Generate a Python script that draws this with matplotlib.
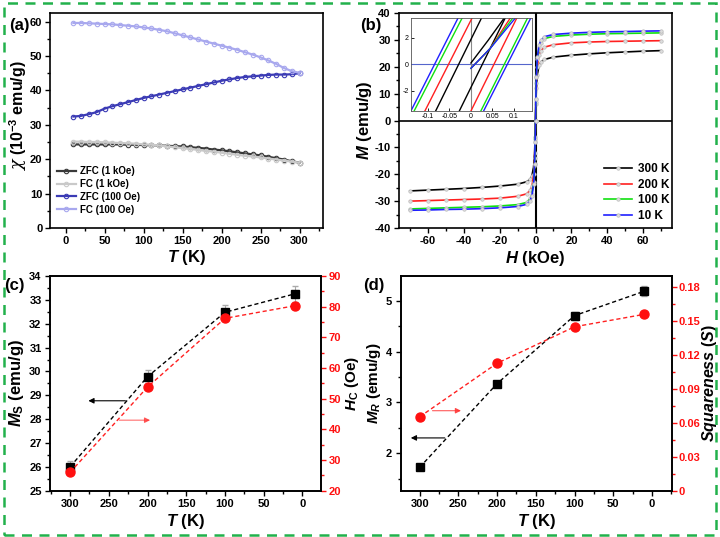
import matplotlib
matplotlib.use('Agg')
import matplotlib.pyplot as plt
from matplotlib.patches import Rectangle
from matplotlib.ticker import MultipleLocator

plt.rcParams['font.family'] = ['Liberation Sans', 'DejaVu Sans']
plt.rcParams['font.weight'] = 'bold'
plt.rcParams['axes.labelweight'] = 'bold'
plt.rcParams['axes.unicode_minus'] = False
plt.rcParams['mathtext.fontset'] = 'custom'
plt.rcParams['mathtext.rm'] = 'Liberation Sans:bold'
plt.rcParams['mathtext.it'] = 'Liberation Sans:italic:bold'
plt.rcParams['mathtext.bf'] = 'Liberation Sans:bold'

# ---------------- (a) susceptibility vs T ----------------
T_a = [10, 20, 30, 40, 50, 60, 70, 80, 90, 100, 110, 120, 130, 140, 150,
       160, 170, 180, 190, 200, 210, 220, 230, 240, 250, 260, 270, 280, 290, 300]
zfc_1k = [24.3, 24.3, 24.3, 24.3, 24.3, 24.3, 24.3, 24.2, 24.2, 24.1, 24.1, 24.0, 23.9, 23.8, 23.7,
          23.5, 23.3, 23.1, 22.8, 22.6, 22.3, 22.0, 21.7, 21.4, 21.1, 20.7, 20.3, 19.9, 19.4, 19.0]
fc_1k = [25.1, 25.1, 25.0, 25.0, 24.9, 24.8, 24.7, 24.6, 24.5, 24.3, 24.2, 24.0, 23.7, 23.5, 23.2,
         23.0, 22.7, 22.4, 22.2, 21.9, 21.6, 21.3, 21.0, 20.8, 20.5, 20.2, 19.9, 19.6, 19.3, 19.0]
zfc_100 = [32.4, 32.6, 33.1, 33.7, 34.7, 35.4, 36.0, 36.6, 37.2, 37.8, 38.3, 38.8, 39.3, 39.8, 40.3,
           40.8, 41.3, 41.8, 42.3, 42.8, 43.2, 43.6, 43.9, 44.1, 44.3, 44.5, 44.6, 44.6, 44.7, 45.0]
fc_100 = [59.6, 59.6, 59.5, 59.4, 59.3, 59.2, 59.0, 58.8, 58.6, 58.3, 58.0, 57.6, 57.2, 56.6, 56.0,
          55.4, 54.8, 54.2, 53.6, 53.0, 52.4, 51.8, 51.1, 50.4, 49.6, 48.7, 47.7, 46.5, 45.6, 45.1]
labels_a = ['ZFC (1 kOe)', 'FC (1 kOe)', 'ZFC (100 Oe)', 'FC (100 Oe)']
colors_a = ['#3a3a3a', '#c9c9c9', '#3b3bb5', '#a8a8ee']

# ---------------- (b) M-H loops ----------------
H_field = [-70, -60, -50, -40, -30, -20, -10, -5, -3, -2, -1, -0.5, -0.2, 0,
           0.2, 0.5, 1, 2, 3, 5, 10, 20, 30, 40, 50, 60, 70]
M_300K = [-26.2, -25.9, -25.6, -25.3, -24.9, -24.4, -23.7, -22.8, -21.9, -20.6, -17, -12, -6, 0,
          6, 12, 17, 20.5, 21.8, 22.7, 23.6, 24.3, 24.8, 25.2, 25.5, 25.8, 26.0]
M_200K = [-30.0, -29.8, -29.6, -29.4, -29.2, -28.9, -28.2, -27.3, -26.0, -24.5, -20, -14, -7, 0,
          7, 14, 20, 24.5, 26.0, 27.3, 28.2, 28.9, 29.2, 29.4, 29.5, 29.6, 29.7]
M_100K = [-32.9, -32.7, -32.5, -32.3, -32.1, -31.8, -31.3, -30.5, -29.0, -27.5, -23, -16, -8, 0,
          8, 16, 23, 27.5, 29.0, 30.5, 31.3, 31.8, 32.1, 32.3, 32.4, 32.5, 32.6]
M_10K = [-33.4, -33.3, -33.1, -33.0, -32.8, -32.5, -32.0, -31.2, -29.8, -28.0, -23.5, -16, -8, 0,
         8, 16, 23.5, 28.0, 29.8, 31.2, 32.0, 32.5, 32.8, 33.0, 33.1, 33.25, 33.35]
labels_b = ['300 K', '200 K', '100 K', '10 K']
colors_b = ['#000000', '#ff2020', '#10e010', '#2020ff']

# inset: straight branch segments near H = 0 (kOe), endpoints at M = -3.5 and 3.5
ins_M_ends = [-3.5, 3.5]
ins_desc_300 = [-0.082, 0.025]
ins_desc_200 = [-0.107, 0.003]
ins_desc_100 = [-0.132, -0.020]
ins_desc_10 = [-0.1395, -0.0295]
ins_asc_300 = [-0.027, 0.080]
ins_asc_200 = [0.000, 0.107]
ins_asc_100 = [0.023, 0.132]
ins_asc_10 = [0.0295, 0.1395]
virgin_H_300 = [0.0, 0.04, 0.078]
virgin_M_300 = [0.1, 1.8, 3.5]
virgin_H = [0.0, 0.045, 0.092]
virgin_M = [-0.3, 1.2, 3.5]
virgin_H_end = [0.092, 0.098, 0.104]

# ---------------- (c), (d) ----------------
T_pts = [300, 200, 100, 10]
Ms = [26.0, 29.78, 32.48, 33.25]
Ms_err = [0.25, 0.3, 0.3, 0.35]
Hc = [26.0, 53.8, 76.2, 80.3]
Mr = [1.72, 3.37, 4.71, 5.19]
Mr_err = [0.03, 0.05, 0.08, 0.1]
Sq = [0.0654, 0.1128, 0.1451, 0.1561]

TICK = 8
LAB = 12

fig = plt.figure(figsize=(7.2, 5.37), dpi=100)


def style(ax, pad=2.5):
    ax.tick_params(which='both', direction='out', labelsize=TICK, width=1, pad=pad)
    ax.tick_params(which='major', length=3.5)
    ax.tick_params(which='minor', length=2)
    for s in ax.spines.values():
        s.set_linewidth(1.2)
    for lab in ax.get_xticklabels() + ax.get_yticklabels():
        lab.set_fontweight('bold')


# (a)
axa = fig.add_axes([0.0694, 0.5754, 0.3792, 0.4004])
for y, lab, c in zip([zfc_1k, fc_1k, zfc_100, fc_100], labels_a, colors_a):
    axa.plot(T_a, y, '-o', color=c, lw=1.6, ms=3.2, mfc='none', mew=0.8, label=lab)
axa.set_xlim(-20, 330)
axa.set_ylim(0, 62.5)
axa.xaxis.set_major_locator(MultipleLocator(50))
axa.xaxis.set_minor_locator(MultipleLocator(25))
axa.yaxis.set_major_locator(MultipleLocator(10))
axa.yaxis.set_minor_locator(MultipleLocator(5))
axa.set_xlabel(r'$T$ (K)', fontsize=LAB, labelpad=2)
style(axa, pad=2)
# y label of (a): serif italic chi followed by the bold unit part
fig.text(19 / 720, 1 - 166 / 537, '\u03c7', family='DejaVu Serif', style='italic',
         fontweight='normal', fontsize=12.5, rotation=90, ha='center', va='center')
fig.text(18 / 720, 1 - 108 / 537, r'(10$^{-3}$ emu/g)', fontsize=11.5, fontweight='bold',
         rotation=90, ha='center', va='center')
axa.legend(loc='lower left', bbox_to_anchor=(0.0, 0.03), frameon=False,
           prop={'size': 7, 'weight': 'bold'}, handlelength=2.0, labelspacing=0.3,
           borderaxespad=0.3, handletextpad=0.4)

# (b)
axb = fig.add_axes([0.5542, 0.5754, 0.3791, 0.4004])
axb.axhline(0, color='black', lw=1.2, zorder=1)
axb.axvline(0, color='black', lw=1.5, zorder=1)
for m, lab, c in zip([M_300K, M_200K, M_100K, M_10K], labels_b, colors_b):
    axb.plot(H_field, m, '-o', color=c, lw=1.2, ms=2.5, mfc='#dddddd', mec='#bbbbbb',
             mew=0.5, label=lab, zorder=3)
axb.set_xlim(-76, 76)
axb.set_ylim(-40, 40)
axb.xaxis.set_major_locator(MultipleLocator(20))
axb.xaxis.set_minor_locator(MultipleLocator(10))
axb.yaxis.set_major_locator(MultipleLocator(10))
axb.yaxis.set_minor_locator(MultipleLocator(5))
axb.set_xlabel(r'$H$ (kOe)', fontsize=LAB, labelpad=2)
axb.set_ylabel(r'$M$ (emu/g)', fontsize=LAB, labelpad=0)
style(axb)
axb.legend(loc='lower right', bbox_to_anchor=(1.02, -0.01), frameon=False,
           prop={'size': 8.5, 'weight': 'bold'},
           handlelength=2.3, labelspacing=0.3, borderaxespad=0.3, handletextpad=0.5)

# inset
axi = fig.add_axes([0.5704, 0.7933, 0.1689, 0.1726])
axi.axhline(0, color='#5566cc', lw=0.8)
axi.axvline(0, color='#888888', lw=0.8)
desc = [ins_desc_300, ins_desc_200, ins_desc_100, ins_desc_10]
asc = [ins_asc_300, ins_asc_200, ins_asc_100, ins_asc_10]
for d, a, c in zip(desc, asc, colors_b):
    axi.plot(d, ins_M_ends, color=c, lw=1.0)
    axi.plot(a, ins_M_ends, color=c, lw=1.0)
axi.plot(virgin_H_300, virgin_M_300, color='black', lw=1.0)
for hend, c in zip(virgin_H_end, colors_b[1:]):
    axi.plot(virgin_H[:2] + [hend], virgin_M, color=c, lw=1.0)
axi.set_xlim(-0.14, 0.1426)
axi.set_ylim(-3.5, 3.45)
axi.set_xticks([-0.1, -0.05, 0, 0.05, 0.1])
axi.set_xticklabels(['-0.1', '-0.05', '0', '0.05', '0.1'])
axi.set_yticks([-2, 0, 2])
axi.tick_params(direction='in', labelsize=5, length=2, width=0.6, pad=1.5)
for lab in axi.get_xticklabels() + axi.get_yticklabels():
    lab.set_fontweight('normal')
for s in axi.spines.values():
    s.set_linewidth(0.6)
    s.set_color('#555555')

# (c)
axc = fig.add_axes([0.0694, 0.0862, 0.3764, 0.3998])
axc.errorbar(T_pts, Ms, yerr=Ms_err, fmt='none', ecolor='#aaaaaa', elinewidth=0.8,
             capsize=2, zorder=2)
axc.plot(T_pts, Ms, 's', color='black', ms=6, zorder=4)
axc.plot(T_pts, Ms, '--', color='black', lw=1.0, dashes=(3, 2), zorder=3)
axc.set_xlim(326, -24)
axc.set_ylim(25, 34)
axc.xaxis.set_major_locator(MultipleLocator(50))
axc.xaxis.set_minor_locator(MultipleLocator(25))
axc.yaxis.set_major_locator(MultipleLocator(1))
axc.yaxis.set_minor_locator(MultipleLocator(0.5))
axc.set_xlabel(r'$T$ (K)', fontsize=LAB, labelpad=2)
axc.set_ylabel(r'$M_\mathrm{S}$ (emu/g)', fontsize=LAB, labelpad=2)
style(axc)
axc2 = axc.twinx()
axc2.plot(T_pts, Hc, 'o', color='#ff1010', ms=6.5, zorder=4)
axc2.plot(T_pts, Hc, '--', color='#ff2020', lw=1.0, dashes=(3, 2), zorder=3)
axc2.set_ylim(20, 90)
axc2.yaxis.set_major_locator(MultipleLocator(10))
axc2.yaxis.set_minor_locator(MultipleLocator(5))
axc2.set_ylabel(r'$H_\mathrm{C}$ (Oe)', fontsize=11, labelpad=1)
style(axc2, pad=2)
axc2.tick_params(axis='y', colors='#ff1010', which='both')
axc2.yaxis.label.set_color('black')
axc2.spines['right'].set_color('black')
axc.annotate('', xy=(280, 28.77), xytext=(225, 28.77),
             arrowprops=dict(arrowstyle='-|>', color='black', lw=0.8, mutation_scale=8))
axc2.annotate('', xy=(193, 43), xytext=(240, 43),
              arrowprops=dict(arrowstyle='-|>', color='#ff3030', lw=0.8, mutation_scale=8,
                              alpha=0.7))

# (d)
axd = fig.add_axes([0.5565, 0.0862, 0.3764, 0.3998])
axd.errorbar(T_pts, Mr, yerr=Mr_err, fmt='none', ecolor='#aaaaaa', elinewidth=0.8,
             capsize=2, zorder=2)
axd.plot(T_pts, Mr, 's', color='black', ms=6, zorder=4)
axd.plot(T_pts, Mr, '--', color='black', lw=1.0, dashes=(3, 2), zorder=3)
axd.set_xlim(324.5, -25.4)
axd.set_ylim(1.26, 5.49)
axd.xaxis.set_major_locator(MultipleLocator(50))
axd.xaxis.set_minor_locator(MultipleLocator(25))
axd.yaxis.set_major_locator(MultipleLocator(1))
axd.yaxis.set_minor_locator(MultipleLocator(0.5))
axd.set_xlabel(r'$T$ (K)', fontsize=LAB, labelpad=2)
axd.set_ylabel(r'$M_R$ (emu/g)', fontsize=11, labelpad=2)
style(axd)
axd2 = axd.twinx()
axd2.plot(T_pts, Sq, 'o', color='#ff1010', ms=6.5, zorder=4)
axd2.plot(T_pts, Sq, '--', color='#ff2020', lw=1.0, dashes=(3, 2), zorder=3)
axd2.set_ylim(0, 0.19)
axd2.yaxis.set_minor_locator(MultipleLocator(0.015))
axd2.set_yticks([0, 0.03, 0.06, 0.09, 0.12, 0.15, 0.18])
axd2.set_yticklabels(['0', '0.03', '0.06', '0.09', '0.12', '0.15', '0.18'])
axd2.set_ylabel(r'$Squareness$ ($S$)', fontsize=11.5, labelpad=0)
style(axd2, pad=1.5)
axd2.tick_params(axis='y', colors='#ff1010', which='both')
axd2.yaxis.label.set_color('black')
axd2.spines['right'].set_color('black')
axd2.annotate('', xy=(243, 0.0708), xytext=(287, 0.0708),
              arrowprops=dict(arrowstyle='-|>', color='#ff3030', lw=0.8, mutation_scale=8,
                              alpha=0.8))
axd.annotate('', xy=(315, 2.30), xytext=(264, 2.30),
             arrowprops=dict(arrowstyle='-|>', color='black', lw=0.8, mutation_scale=8))

# panel labels
fig.text(0.013, 0.945, '(a)', fontsize=12, fontweight='bold')
fig.text(0.500, 0.945, '(b)', fontsize=12, fontweight='bold')
fig.text(0.006, 0.460, '(c)', fontsize=12, fontweight='bold')
fig.text(0.505, 0.460, '(d)', fontsize=12, fontweight='bold')

# dashed green border
fig.patches.append(Rectangle((0.005, 0.004), 0.99, 0.991, transform=fig.transFigure,
                             fill=False, ec='#22b14c', lw=1.8, ls=(0, (4, 3))))

fig.savefig('out.png', dpi=100)
